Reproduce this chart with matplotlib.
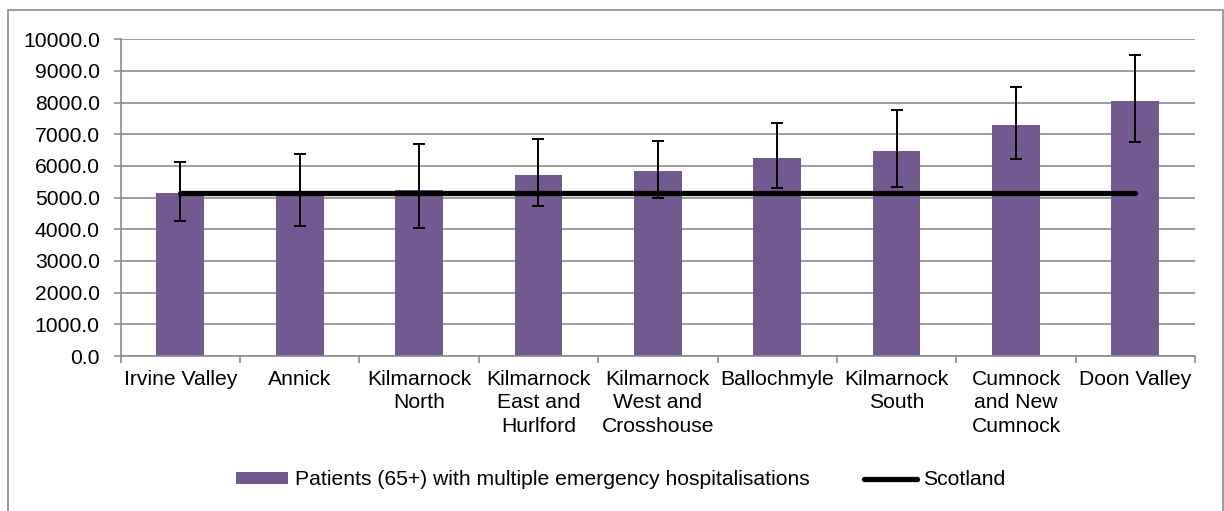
import matplotlib
matplotlib.use('Agg')
import matplotlib.pyplot as plt
from matplotlib.patches import Rectangle
import numpy as np

plt.rcParams['font.family'] = ['Liberation Sans', 'DejaVu Sans']

categories = ['Irvine Valley', 'Annick', 'Kilmarnock\nNorth',
              'Kilmarnock\nEast and\nHurlford', 'Kilmarnock\nWest and\nCrosshouse',
              'Ballochmyle', 'Kilmarnock\nSouth', 'Cumnock\nand New\nCumnock',
              'Doon Valley']
values = [5140, 5120, 5230, 5715, 5850, 6250, 6465, 7295, 8040]
upper = [6130, 6370, 6695, 6850, 6800, 7345, 7770, 8495, 9505]
lower = [4275, 4115, 4030, 4735, 5000, 5305, 5335, 6230, 6755]
scotland = 5140

bar_color = '#725a91'
grid_color = '#8c8c8c'
fs = 15.2

fig = plt.figure(figsize=(12.24, 5.11), dpi=100)
ax = fig.add_axes([0.0986, 0.3033, 0.8777, 0.6198])

x = np.arange(len(categories))
vals = np.array(values)
yerr = [vals - np.array(lower), np.array(upper) - vals]

bars = ax.bar(x, vals, width=0.4, color=bar_color, zorder=2,
              label='Patients (65+) with multiple emergency hospitalisations')
ax.errorbar(x, vals, yerr=yerr, fmt='none', ecolor='black', elinewidth=1.4,
            capsize=4.5, capthick=1.4, zorder=3)
line, = ax.plot([x[0], x[-1]], [scotland, scotland], color='black', lw=3.8,
                solid_capstyle='round', zorder=4, label='Scotland')

ax.set_xlim(-0.5, len(categories) - 0.5)
ax.set_ylim(0, 10000)
ax.set_yticks(np.arange(0, 10001, 1000))
ax.set_yticklabels(['%.1f' % v for v in np.arange(0, 10001, 1000)], fontsize=fs)
ax.set_xticks(x)
ax.set_xticklabels(categories, fontsize=fs, linespacing=1.3, va='top')
ax.set_xticks(np.arange(-0.5, len(categories)), minor=True)
ax.tick_params(axis='x', which='major', length=0, pad=10)
ax.tick_params(axis='x', which='minor', length=5, color=grid_color, width=1.2)
ax.tick_params(axis='y', length=5, color=grid_color, width=1.2, pad=10)

ax.grid(axis='y', color=grid_color, lw=1.2, zorder=0)
ax.set_axisbelow(True)
for s in ['top', 'right']:
    ax.spines[s].set_visible(False)
for s in ['left', 'bottom']:
    ax.spines[s].set_color(grid_color)
    ax.spines[s].set_linewidth(1.2)

fig.legend(handles=[bars, line], loc='center', bbox_to_anchor=(0.507, 0.0607),
           ncol=2, frameon=False, fontsize=fs, handlelength=2.5, handleheight=0.55,
           handletextpad=0.3, columnspacing=2.6)

fig.patches.append(Rectangle((7.5 / 1224, -0.01), 1215.5 / 1224, 0.99,
                             transform=fig.transFigure, fill=False,
                             edgecolor='#8c8c8c', lw=1.2))

fig.savefig('out.png', dpi=100)
